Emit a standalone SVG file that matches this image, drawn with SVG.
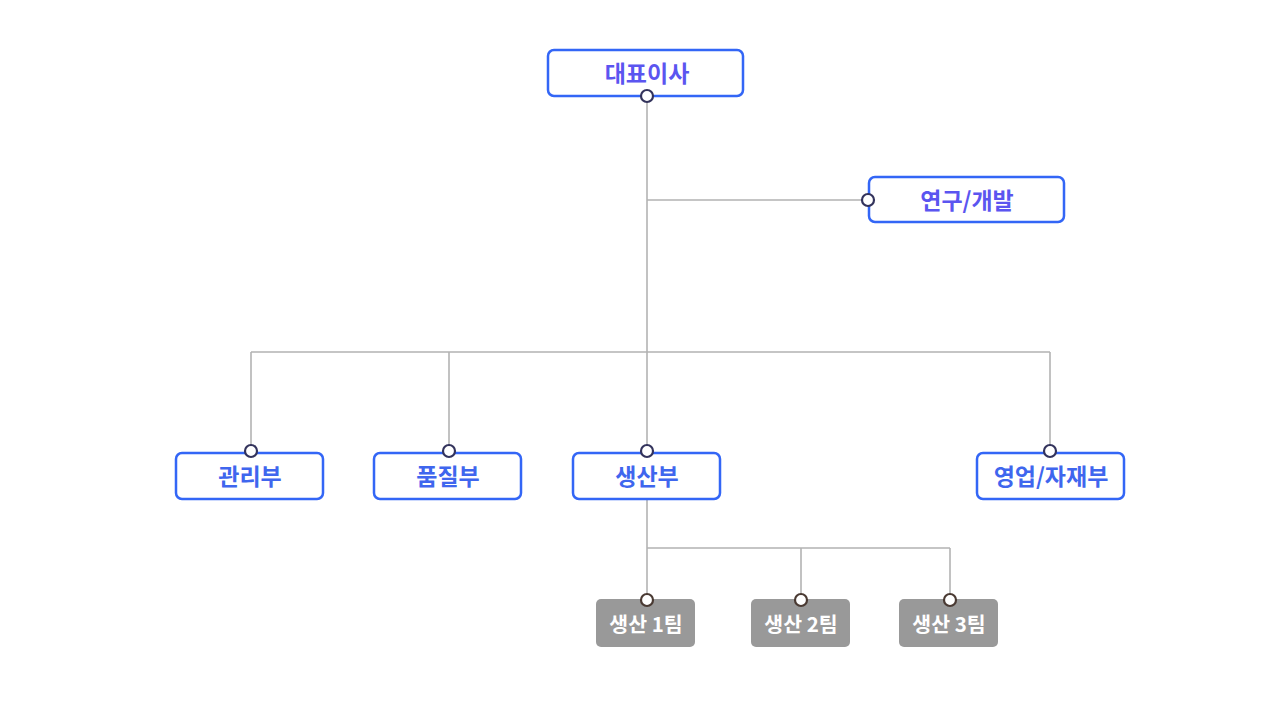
<svg xmlns="http://www.w3.org/2000/svg" width="1280" height="720" viewBox="0 0 1280 720">
<style>
.box{fill:#fff;stroke:#3366f6;stroke-width:2.5}
.t1{font-family:"Noto Sans CJK KR","Noto Sans",sans-serif;font-size:23px;font-weight:bold;fill:#5b55f0;text-anchor:middle;dominant-baseline:central}
.t2{font-family:"Noto Sans CJK KR","Noto Sans",sans-serif;font-size:23px;font-weight:bold;fill:#3f66ee;text-anchor:middle;dominant-baseline:central}
.gbox{fill:#999999}
.t3{font-family:"Noto Sans CJK KR","Noto Sans",sans-serif;font-size:20.5px;font-weight:bold;fill:#fff;text-anchor:middle;dominant-baseline:central}
.c1{fill:#fff;stroke:#33335c;stroke-width:2.2}
.c2{fill:#fff;stroke:#4a3a33;stroke-width:2.2}
.ln{fill:none;stroke:#b3b3b3;stroke-width:1.6}
</style>
<rect width="1280" height="720" fill="#fff"/>
<g id="connectors">
<path class="ln" d="M647 101V446M647 200H863M251 352H1050M251 352V446M449 352V446M1050 352V446"/>
<path class="ln" d="M647 499V595M647 548H950M801 548V595M950 548V595"/>
</g>
<g id="ceo"><rect class="box" x="548" y="50" width="195" height="46" rx="6"/><text class="t1" x="647" y="72">대표이사</text><circle class="c1" cx="647" cy="96" r="6"/></g>
<g id="rnd"><rect class="box" x="869" y="177" width="195" height="45" rx="6"/><text class="t1" x="967" y="199">연구/개발</text><circle class="c1" cx="868" cy="200" r="6"/></g>
<g id="admin"><rect class="box" x="176" y="453" width="147" height="46" rx="6"/><text class="t2" x="250" y="475">관리부</text><circle class="c1" cx="251" cy="451" r="6"/></g>
<g id="quality"><rect class="box" x="374" y="453" width="147" height="46" rx="6"/><text class="t2" x="448" y="475">품질부</text><circle class="c1" cx="449" cy="451" r="6"/></g>
<g id="production"><rect class="box" x="573" y="453" width="147" height="46" rx="6"/><text class="t2" x="647" y="475">생산부</text><circle class="c1" cx="647" cy="451" r="6"/></g>
<g id="sales"><rect class="box" x="977" y="453" width="147" height="46" rx="6"/><text class="t2" x="1051" y="475">영업/자재부</text><circle class="c1" cx="1050" cy="451" r="6"/></g>
<g id="team1"><rect class="gbox" x="596" y="599" width="99" height="48" rx="5"/><text class="t3" x="646" y="623">생산 1팀</text><circle class="c2" cx="647" cy="600" r="6"/></g>
<g id="team2"><rect class="gbox" x="751" y="599" width="99" height="48" rx="5"/><text class="t3" x="801" y="623">생산 2팀</text><circle class="c2" cx="801" cy="600" r="6"/></g>
<g id="team3"><rect class="gbox" x="899" y="599" width="99" height="48" rx="5"/><text class="t3" x="949" y="623">생산 3팀</text><circle class="c2" cx="950" cy="600" r="6"/></g>
</svg>
